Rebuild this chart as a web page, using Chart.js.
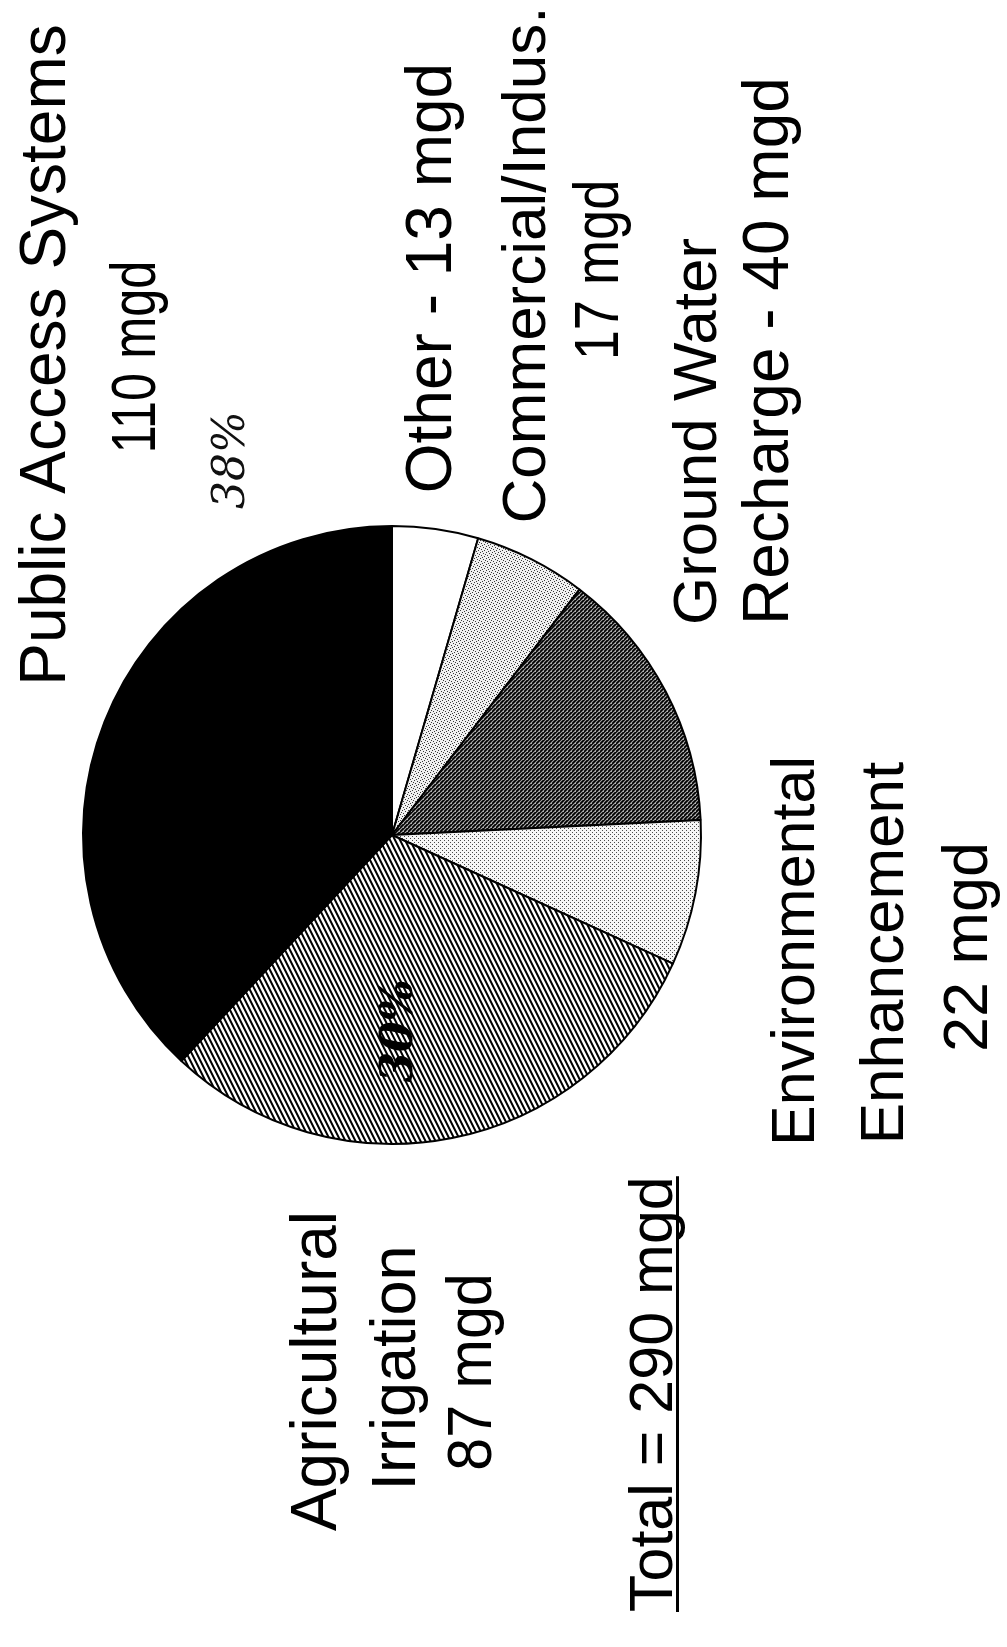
<!DOCTYPE html>
<html>
<head>
<meta charset="utf-8">
<script src="https://cdn.jsdelivr.net/npm/chart.js@4.4.1/dist/chart.umd.min.js"></script>
<style>
  html, body { margin: 0; padding: 0; background: #ffffff; }
  #wrap { width: 1007px; height: 1647px; position: relative; background: #ffffff; }
  canvas { display: block; }
</style>
</head>
<body>
<div id="wrap"><canvas id="c" width="1007" height="1647"></canvas></div>
<script>
// ---- data (slices in clockwise order starting at 12 o'clock) ----
const categories = ['Other', 'Commercial/Indus.', 'Ground Water Recharge', 'Environmental Enhancement', 'Agricultural Irrigation', 'Public Access Systems'];
const values = [13, 17, 40, 22, 87, 110];
const unit = 'mgd';
const totalValue = 290;
const handNotes = ['38%', '30%'];

// label text lines for each slice, built from the data
const labelLines = [
  [categories[0] + ' - ' + values[0] + ' ' + unit],
  ['Commercial/Indus.', values[1] + ' ' + unit],
  ['Ground Water', 'Recharge - ' + values[2] + ' ' + unit],
  ['Environmental', 'Enhancement', values[3] + ' ' + unit],
  ['Agricultural', 'Irrigation', values[4] + ' ' + unit],
  ['Public Access Systems', values[5] + ' ' + unit]
];

// ---- layout (page coordinates; text is rotated 90deg counter-clockwise) ----
// each entry: [baselineX, anchorY, align, fontPx, horizontalScale]
const labelLayout = [
  [[451, 278, 'center', 64, 1]],
  [[545, 265, 'center', 62, 1], [618, 270, 'center', 63, 0.86]],
  [[716, 625, 'left', 62, 1], [788, 625, 'left', 64, 1]],
  [[814, 951, 'center', 61, 1], [903, 953, 'center', 62, 1], [987, 947, 'center', 63, 1]],
  [[336, 1371, 'center', 64, 1], [415, 1368, 'center', 63, 1], [491, 1372, 'center', 63, 0.94]],
  [[65, 355, 'center', 64, 1], [155, 357, 'center', 63, 0.8]]
];
const totalLayout = [672, 1612, 61];
const FONT_FAMILY = '"Liberation Sans", Arial, Helvetica, sans-serif';

// ---- fill patterns ----
function makeTile(w, h, painter) {
  const cv = document.createElement('canvas');
  cv.width = w; cv.height = h;
  const g = cv.getContext('2d');
  painter(g, w, h);
  return document.getElementById('c').getContext('2d').createPattern(cv, 'repeat');
}
const whiteFill = '#ffffff';
const commercialFill = makeTile(6, 6, (g, w, h) => {
  g.fillStyle = '#f0f0f0'; g.fillRect(0, 0, w, h);
  g.fillStyle = '#3a3a3a';
  [[0,0],[3,1],[1,3],[4,4],[5,2],[2,5]].forEach(p => g.fillRect(p[0], p[1], 1, 1));
});
const groundFill = makeTile(4, 4, (g, w, h) => {
  g.fillStyle = '#a8a8a8'; g.fillRect(0, 0, w, h);
  g.strokeStyle = '#000'; g.lineWidth = 1.8;
  g.beginPath();
  g.moveTo(-1, 5); g.lineTo(5, -1);
  g.moveTo(-5, 5); g.lineTo(1, -1);
  g.moveTo(3, 9); g.lineTo(9, 3);
  g.stroke();
});
const envFill = makeTile(4, 4, (g, w, h) => {
  g.fillStyle = '#f6f6f6'; g.fillRect(0, 0, w, h);
  g.fillStyle = '#4a4a4a';
  g.fillRect(0, 0, 1, 1); g.fillRect(2, 2, 1, 1);
});
const agriFill = makeTile(5, 10, (g, w, h) => {
  g.fillStyle = '#ffffff'; g.fillRect(0, 0, w, h);
  g.strokeStyle = '#000'; g.lineWidth = 2;
  g.beginPath();
  for (let k = -2; k <= 2; k++) {
    g.moveTo(k * 5 - 1, -2); g.lineTo(k * 5 + 6, 12);
  }
  g.stroke();
});
const blackFill = '#000000';
const fills = [whiteFill, commercialFill, groundFill, envFill, agriFill, blackFill];

// ---- text plugin ----
function drawRotated(ctx, text, bx, ay, align, px, sx, underline) {
  ctx.save();
  ctx.translate(bx, ay);
  ctx.rotate(-Math.PI / 2);
  ctx.scale(sx, 1);
  ctx.font = px + 'px ' + FONT_FAMILY;
  ctx.fillStyle = '#000';
  ctx.textAlign = align;
  ctx.textBaseline = 'alphabetic';
  ctx.fillText(text, 0, 0);
  if (underline) {
    const w = ctx.measureText(text).width;
    const x0 = align === 'left' ? 0 : -w / 2;
    ctx.fillRect(x0, 4, w, 3);
  }
  ctx.restore();
}
const labelPlugin = {
  id: 'rotLabels',
  afterDraw(chart) {
    const ctx = chart.ctx;
    labelLines.forEach((lines, i) => {
      lines.forEach((t, j) => {
        const L = labelLayout[i][j];
        drawRotated(ctx, t, L[0], L[1], L[2], L[3], L[4], false);
      });
    });
    drawRotated(ctx, 'Total = ' + totalValue + ' ' + unit, totalLayout[0], totalLayout[1], 'left', totalLayout[2], 1, true);
    // handwritten notes
    ctx.save();
    ctx.fillStyle = '#111';
    ctx.font = 'italic 44px "DejaVu Serif", serif';
    ctx.translate(244, 460); ctx.rotate(-Math.PI / 2);
    ctx.textAlign = 'center'; ctx.fillText(handNotes[0], 0, 0);
    ctx.restore();
    ctx.save();
    ctx.fillStyle = '#000';
    ctx.font = 'italic bold 44px "DejaVu Serif", serif';
    ctx.translate(412, 1031); ctx.rotate(-Math.PI / 2);
    ctx.textAlign = 'center'; ctx.fillText(handNotes[1], 0, 0);
    ctx.restore();
  }
};
const bgPlugin = {
  id: 'bg',
  beforeDraw(chart) {
    const ctx = chart.ctx;
    ctx.save(); ctx.fillStyle = '#fff'; ctx.fillRect(0, 0, chart.width, chart.height); ctx.restore();
  }
};

new Chart(document.getElementById('c'), {
  type: 'pie',
  data: {
    labels: categories,
    datasets: [{
      data: values,
      backgroundColor: fills,
      borderColor: '#000',
      borderWidth: 2,
      borderAlign: 'center'
    }]
  },
  options: {
    responsive: false,
    devicePixelRatio: 1,
    animation: false,
    rotation: 0,
    layout: { padding: { left: 82, right: 305, top: 525, bottom: 502 } },
    plugins: { legend: { display: false }, tooltip: { enabled: false }, title: { display: false } }
  },
  plugins: [bgPlugin, labelPlugin]
});
</script>
</body>
</html>
